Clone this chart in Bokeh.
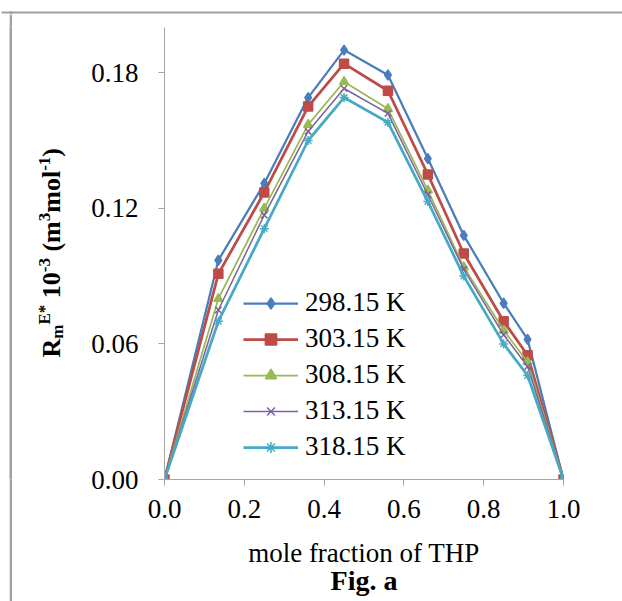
import math
from bokeh.plotting import figure
from bokeh.layouts import column, row
from bokeh.models import (Range1d, FixedTicker, NumeralTickFormatter, Legend,
                          LegendItem, Title, Spacer)
from bokeh.core.properties import value
from bokeh.embed import file_html
from bokeh.resources import INLINE

# ---- data ----
x_frac = [0.0, 0.135, 0.25, 0.36, 0.45, 0.56, 0.66, 0.75, 0.85, 0.91, 1.0]
r_298 = [0.0, 0.097, 0.131, 0.169, 0.190, 0.179, 0.142, 0.108, 0.078, 0.062, 0.0]
r_303 = [0.0, 0.091, 0.127, 0.165, 0.184, 0.172, 0.135, 0.100, 0.070, 0.055, 0.0]
r_308 = [0.0, 0.080, 0.120, 0.157, 0.176, 0.164, 0.128, 0.094, 0.066, 0.052, 0.0]
r_313 = [0.0, 0.075, 0.117, 0.154, 0.173, 0.162, 0.126, 0.093, 0.064, 0.050, 0.0]
r_318 = [0.0, 0.070, 0.111, 0.150, 0.169, 0.158, 0.123, 0.090, 0.060, 0.046, 0.0]
series_labels = ["298.15 K", "303.15 K", "308.15 K", "313.15 K", "318.15 K"]
x_ticks = [0.0, 0.2, 0.4, 0.6, 0.8, 1.0]
y_ticks = [0.0, 0.06, 0.12, 0.18]
x_title = "mole fraction of THP"
fig_caption = "Fig. a"

series = [r_298, r_303, r_308, r_313, r_318]
colors = ["#4A7EBB", "#BE4B48", "#98B954", "#7D60A0", "#46AAC5"]
markers = ["diamond", "square", "triangle", "x", "asterisk"]
msizes = [10, 9, 9, 9, 9]
lwidths = [2.25, 2.75, 1.75, 1.5, 2.75]

SERIF = "Liberation Serif"
FRAME_GRAY = "#a0a0a0"
W, H = 622, 601
TOP_H = 14          # height of the strip holding the top edge of the panel frame
ROW_H = H - TOP_H
FR_TOP = 13         # main plot frame top inside the row
FR_H = 452          # main plot frame height
FR_W = 399
LABEL_X0 = 12       # left strip starts after the frame's left bar
LABEL_W = 78 - LABEL_X0


def blank(width, height, xr, yr, border_top=0, border_bottom=0, fill="white"):
    f = figure(width=width, height=height, output_backend="svg", toolbar_location=None,
               x_range=Range1d(*xr), y_range=Range1d(*yr),
               min_border_left=0, min_border_right=0,
               min_border_top=border_top, min_border_bottom=border_bottom)
    f.axis.visible = False
    f.grid.visible = False
    f.outline_line_color = None
    f.background_fill_color = fill
    f.border_fill_color = fill
    return f


# ---- top strip: top edge of the panel frame ----
top = blank(W, TOP_H, (0, W), (0, TOP_H))
top.quad(left=1, right=W, bottom=1, top=3, fill_color=FRAME_GRAY, line_color=None)
top.quad(left=9, right=12, bottom=0, top=3, fill_color=FRAME_GRAY, line_color=None)

# ---- left edge of the panel frame (a solid grey strip) ----
bar = blank(3, ROW_H, (0, 1), (0, 1), fill=FRAME_GRAY)

# ---- rotated y title; data units = page pixels (y measured up from page bottom) ----
lab = blank(LABEL_W, ROW_H, (LABEL_X0, LABEL_X0 + LABEL_W),
            (H - (TOP_H + FR_TOP + FR_H), H - (TOP_H + FR_TOP)),
            border_top=FR_TOP, border_bottom=ROW_H - FR_TOP - FR_H)

bold_w = {'R': 0.722, 'm': 0.833, 'E': 0.667, '*': 0.5, '1': 0.5, '0': 0.5,
          '-': 0.333, '3': 0.5, '(': 0.333, 'o': 0.5, 'l': 0.278, ')': 0.333}
# (text, font px, baseline shift px, gap before in px)
pieces = [("R", 26, 0, 0), ("m", 17, 6, 0), ("E*", 17, -7, 0), ("10", 26, 0, 6.5),
          ("-3", 17, -7, 0), ("(m", 26, 0, 6.5), ("3", 17, -7, 0), ("mol", 26, 0, 0),
          ("-1", 17, -7, 0), (")", 26, 0, 0)]
ycur = 601 - 357.0
base_x = 51.0
for txt, fs, shift, gap in pieces:
    ycur += gap
    lab.text(x=[base_x + shift], y=[ycur], text=[txt], angle=math.pi / 2,
             text_font=value(SERIF), text_font_size=value(f"{fs}px"),
             text_font_style="bold", text_color="black", text_align="left",
             text_baseline="alphabetic")
    ycur += sum(bold_w[c] for c in txt) * fs

# ---- main chart ----
p = figure(frame_width=FR_W, frame_height=FR_H, output_backend="svg",
           toolbar_location=None, x_range=Range1d(0, 1), y_range=Range1d(0, 0.2),
           min_border_left=86, min_border_right=59, min_border_top=FR_TOP,
           min_border_bottom=ROW_H - FR_TOP - FR_H)
p.outline_line_color = None
p.xgrid.visible = False
p.ygrid.visible = False
p.background_fill_color = "white"
p.border_fill_color = "white"

for ax in (p.xaxis[0], p.yaxis[0]):
    ax.axis_line_color = "#a6a6a6"
    ax.major_tick_line_color = "#a6a6a6"
    ax.major_tick_out = 6
    ax.major_tick_in = 0
    ax.minor_tick_line_color = None
    ax.major_label_text_font = SERIF
    ax.major_label_text_font_size = "27px"
    ax.major_label_text_color = "black"

p.xaxis.ticker = FixedTicker(ticks=x_ticks)
p.yaxis.ticker = FixedTicker(ticks=y_ticks)
p.xaxis.formatter = NumeralTickFormatter(format="0.0")
p.yaxis.formatter = NumeralTickFormatter(format="0.00")
p.xaxis.major_label_standoff = 14
p.yaxis.major_label_standoff = 20

p.xaxis.axis_label = x_title
p.xaxis.axis_label_text_font = SERIF
p.xaxis.axis_label_text_font_size = "27px"
p.xaxis.axis_label_text_font_style = "normal"
p.xaxis.axis_label_text_color = "black"
p.xaxis.axis_label_standoff = 17

p.add_layout(Title(text=fig_caption, align="center", vertical_align="top",
                   text_font=SERIF, text_font_size="28px", text_font_style="bold",
                   text_color="black", standoff=-11, offset=0), "below")

items = []
for ys, col, mk, ms, lw, lb in zip(series, colors, markers, msizes, lwidths, series_labels):
    lr = p.line(x_frac, ys, line_color=col, line_width=lw)
    sr = p.scatter(x_frac, ys, marker=mk, size=ms, fill_color=col, line_color=col,
                   line_width=1.5)
    items.append(LegendItem(label=lb, renderers=[lr, sr]))

legend = Legend(items=items, location=(79, 17), orientation="vertical",
                border_line_color=None, background_fill_alpha=0, padding=0, margin=0,
                spacing=5, glyph_width=55, glyph_height=28, label_height=28,
                label_standoff=7, label_text_font=SERIF, label_text_font_size="27px",
                label_text_color="black")
p.add_layout(legend)

layout = column(top, row(Spacer(width=9, height=ROW_H), bar, lab, p, spacing=0),
                spacing=0)
open("out.html", "w").write(file_html(layout, INLINE))
